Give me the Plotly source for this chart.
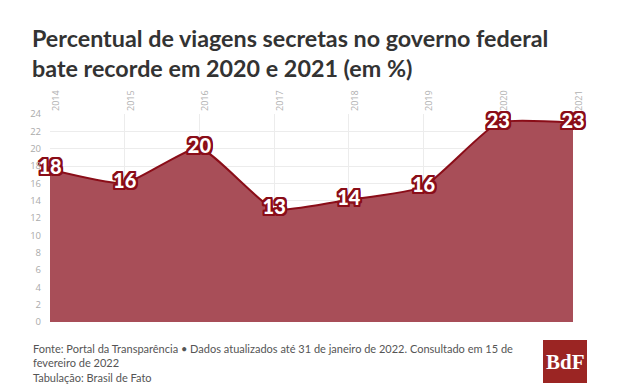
import plotly.graph_objects as go

years = [2014, 2015, 2016, 2017, 2018, 2019, 2020, 2021]
values = [17.6, 16.0, 20.1, 13.0, 14.1, 15.6, 23.0, 23.0]
labels = ["18", "16", "20", "13", "14", "16", "23", "23"]
y_ticks = list(range(0, 25, 2))

title_text = "Percentual de viagens secretas no governo federal<br>bate recorde em 2020 e 2021 (em %)"
footer_text = ("Fonte: Portal da Transparência • Dados atualizados até 31 de janeiro de 2022. Consultado em 15 de<br>"
               "fevereiro de 2022<br>Tabulação: Brasil de Fato")

dark_red = "#8a0d18"
outline = ",".join(f"{dx}px {dy}px 0 {dark_red}" for dx in (-2, -1, 0, 1, 2) for dy in (-2, -1, 0, 1, 2))

# page is offset by the default 8px body margin
L, T, PW, PH = 42, 106, 523, 208

def px(x):
    return (x - 8 - L) / PW

def py(y):
    return 1 - (y - 8 - T) / PH

fig = go.Figure()
fig.add_trace(go.Scatter(
    x=years, y=values, mode="lines+text",
    line=dict(color=dark_red, width=2, shape="spline", smoothing=0.45),
    fill="tozeroy", fillcolor="#a84e58",
    text=labels, textposition="middle center",
    textfont=dict(family="Lato, sans-serif", size=20, color="white", weight=900, shadow=outline),
    cliponaxis=False, hoverinfo="skip",
))

fig.update_layout(
    width=643, height=392,
    margin=dict(l=L, r=643 - L - PW, t=T, b=392 - T - PH),
    paper_bgcolor="white", plot_bgcolor="white",
    showlegend=False,
    xaxis=dict(range=[2014, 2021], tickvals=years, ticktext=[str(y) for y in years],
               side="top", tickangle=-90, showgrid=True, gridcolor="#ececec", gridwidth=1,
               zeroline=False, showline=False, ticks="", ticklabelshift=6, ticklabelstandoff=2,
               tickfont=dict(family="Open Sans, sans-serif", size=9, color="#b0b0b0")),
    yaxis=dict(range=[0, 24], tickvals=y_ticks, showgrid=True, gridcolor="#ececec",
               zeroline=False, showline=False, ticks="", ticklabelstandoff=8,
               tickfont=dict(family="Open Sans, sans-serif", size=9.5, color="#aaaaaa")),
)

fig.add_annotation(text=title_text, xref="paper", yref="paper", x=px(30), y=py(22),
                   xanchor="left", yanchor="top", showarrow=False, align="left",
                   font=dict(family="Lato, sans-serif", size=23.3, color="#333333", weight=700))
fig.add_annotation(text=footer_text, xref="paper", yref="paper", x=px(31), y=py(340),
                   xanchor="left", yanchor="top", showarrow=False, align="left",
                   font=dict(family="Lato, sans-serif", size=11, color="#555555"))

# BdF logo
fig.add_shape(type="rect", xref="paper", yref="paper",
              x0=px(543), x1=px(587), y0=py(383), y1=py(340),
              fillcolor="#9b2523", line=dict(width=0))
fig.add_annotation(text="BdF", xref="paper", yref="paper", x=px(565), y=py(362),
                   xanchor="center", yanchor="middle", showarrow=False,
                   font=dict(family="Liberation Serif, serif", size=21, color="white", weight=700))

fig.write_html("out.html")
